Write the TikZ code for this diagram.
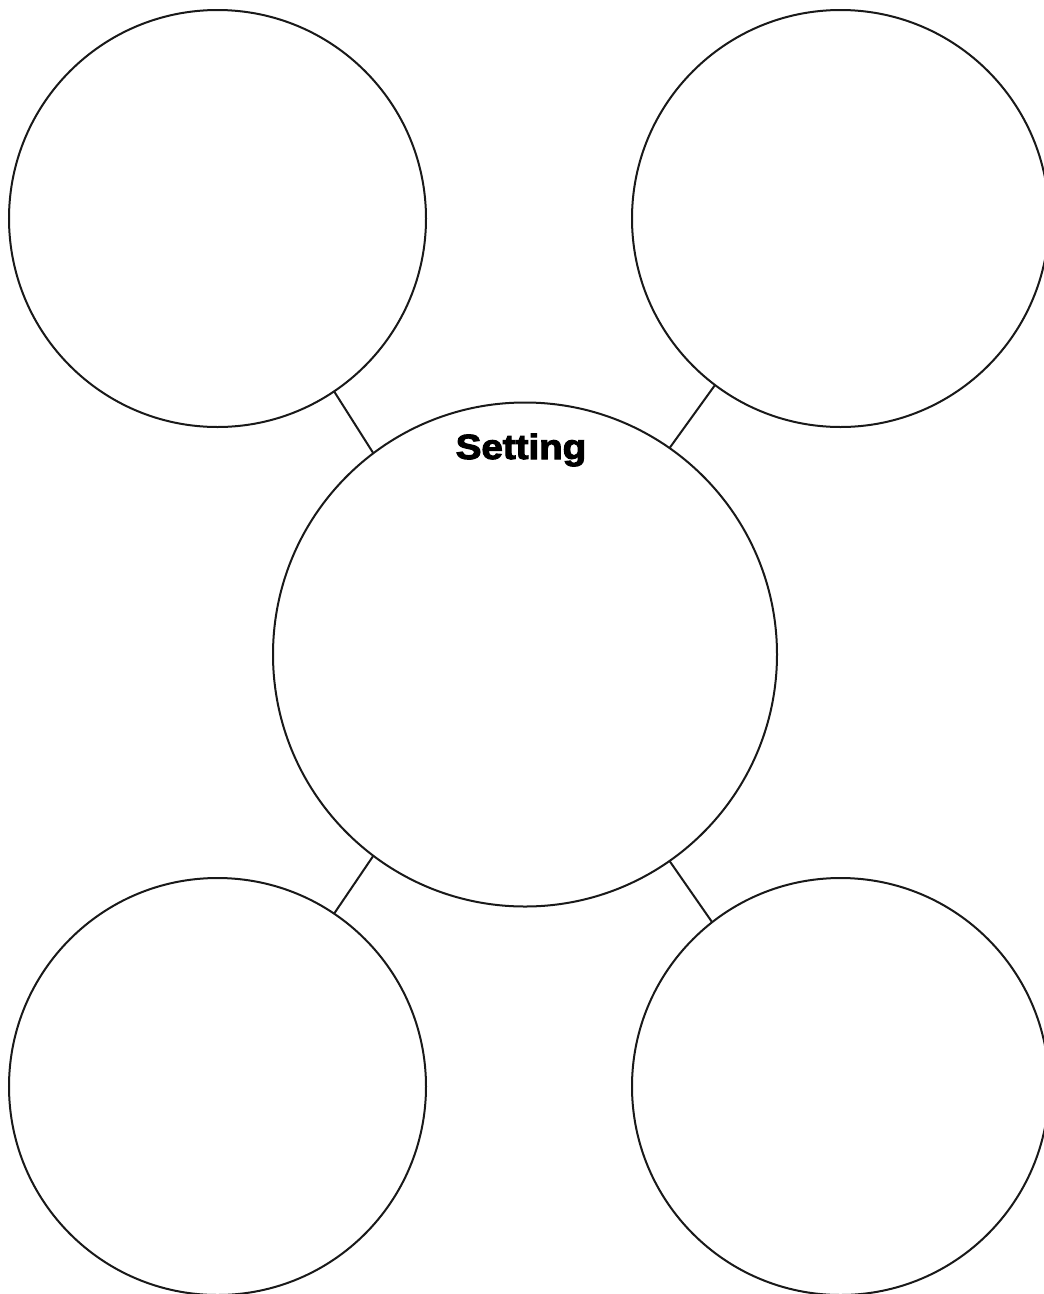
\documentclass[tikz,border=0pt]{standalone}
\usepackage{fontspec}
\newfontfamily\headfont{Liberation Sans}[BoldFeatures={FakeBold=3}]
\begin{document}
\begin{tikzpicture}[x=1pt,y=-1pt,
  bubble/.style={circle,draw=black!90,line width=2pt,inner sep=0pt,outer sep=0pt},
  small/.style={bubble,minimum size=417pt},
  big/.style={bubble,minimum size=504pt},
  link/.style={draw=black!90,line width=2pt},
  title/.style={font=\headfont\bfseries\fontsize{35}{40}\selectfont,inner sep=0pt}]
\useasboundingbox (0,0) rectangle (1044,1294);
\clip (0,0) rectangle (1044,1294);
\node[small] (tl) at (217.5,218.5) {};
\node[small] (tr) at (840.5,218.5) {};
\node[big] (c) at (525,654.5) {};
\node[small] (bl) at (217.5,1086.5) {};
\node[small] (br) at (840.5,1086.5) {};
\node[title,anchor=base,xscale=1.1] (t) at (521,459) {Setting};
\draw[link] (tl.-56.8) -- (c.127);
\draw[link] (tr.-127.8) -- (c.55.8);
\draw[link] (bl.56.7) -- (c.-127);
\draw[link] (br.128.1) -- (c.-55.4);
\end{tikzpicture}
\end{document}
